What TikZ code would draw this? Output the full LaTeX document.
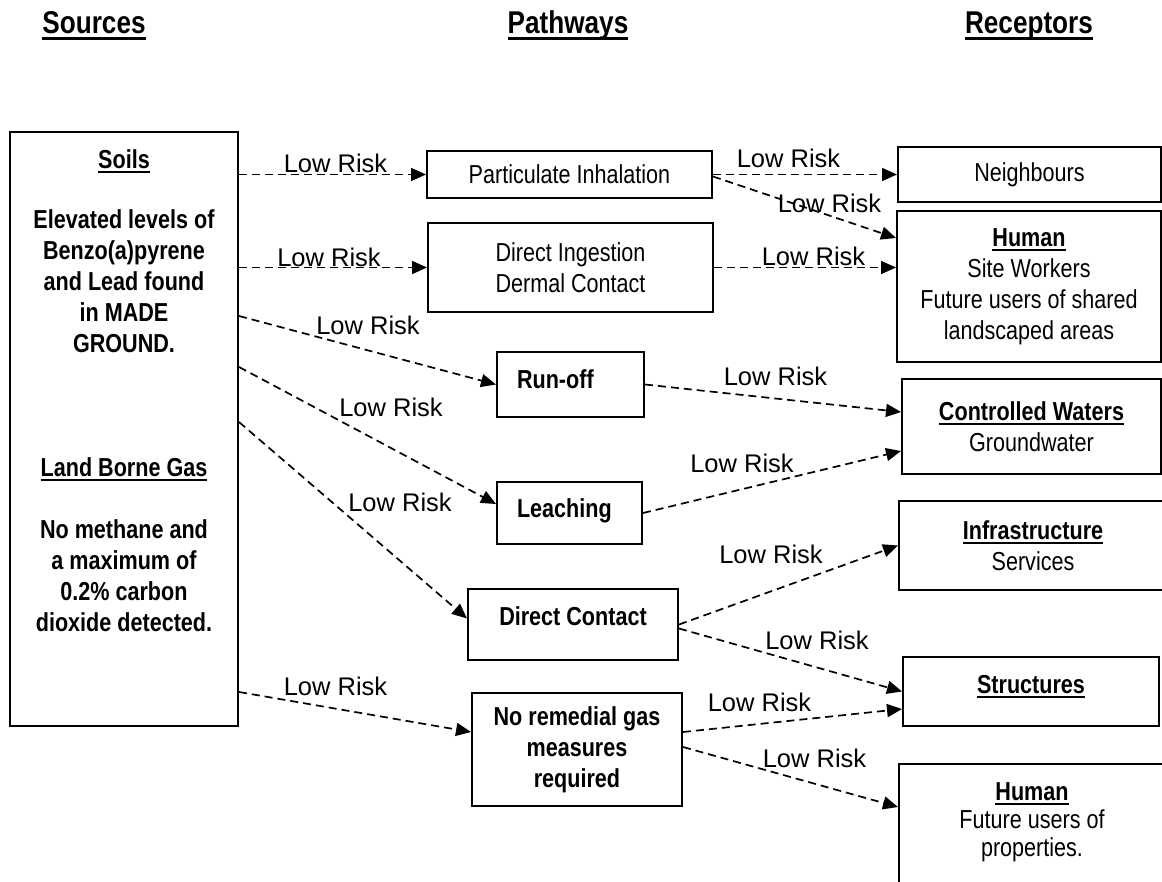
\documentclass[tikz,border=0pt]{standalone}
\usepackage{fontspec}
\setmainfont{Liberation Sans}[FakeStretch=0.83]
\newfontfamily\riskfont{Liberation Sans}
\usetikzlibrary{positioning,calc,arrows.meta}

% underline kept at a fixed depth below the baseline
\newcommand{\ulhead}[1]{\setbox0\hbox{#1}\rlap{\rule[-4.5pt]{\wd0}{2pt}}\box0}
\newcommand{\ultitle}[1]{\setbox0\hbox{#1}\rlap{\rule[-6.5pt]{\wd0}{3pt}}\box0}

\begin{document}
\begin{tikzpicture}[x=1pt, y=-1pt,
    headtitle/.style={font=\fontsize{31.5}{36}\selectfont\bfseries, inner sep=0pt, anchor=base},
    pathbox/.style={draw, line width=2pt, inner sep=0pt, align=center, font=\fontsize{26}{31}\selectfont},
    pathbold/.style={pathbox, font=\fontsize{26}{31}\selectfont\bfseries},
    boxtext/.style={inner sep=0pt, align=center, anchor=north, font=\fontsize{26}{31}\selectfont},
    risk/.style={font=\riskfont\fontsize{25.5}{30}\selectfont, inner sep=0pt},
    pathlink/.style={line width=1.7pt, dash pattern=on 8pt off 5pt, -{Triangle[length=15pt,width=13pt]}}]
    \useasboundingbox (0,0) rectangle (1162,882);

    % column headings
    \node[headtitle] (sources) at (94,34) {\ultitle{Sources}};
    \node[headtitle] (pathways) at (568,34) {\ultitle{Pathways}};
    \node[headtitle] (receptors) at (1029,34) {\ultitle{Receptors}};

    % sources
    \node[pathbox, minimum width=228pt, minimum height=594pt] (src) at (124,429) {};
    \node[boxtext, font=\fontsize{26}{31}\selectfont\bfseries] (srctxt) at (124,149.5) {\ulhead{Soils}\\[29pt]
        Elevated levels of\\Benzo(a)pyrene\\and Lead found\\in MADE\\GROUND.\\[93pt]
        \ulhead{Land Borne Gas}\\[31pt]
        No methane and\\a maximum of\\0.2\% carbon\\dioxide detected.};

    % pathways
    \node[pathbox, minimum width=285pt, minimum height=47pt] (partic) at (569.5,174.5) {Particulate Inhalation};
    \node[pathbox, minimum width=285pt, minimum height=89pt] (ingest) at (570.5,267.5) {Direct Ingestion\\Dermal Contact};
    \node[pathbold, text width=107pt, inner xsep=20pt, align=left, minimum height=65pt, text depth=10.8pt] (runoff) at (570.5,384.5) {Run-off};
    \node[pathbold, text width=105pt, inner xsep=20pt, align=left, minimum height=62pt, text depth=9.8pt] (leach) at (569.5,513) {Leaching};
    \node[pathbold, minimum width=210pt, minimum height=71pt, text depth=16.8pt] (dcontact) at (573,624.5) {Direct Contact};
    \node[pathbold, minimum width=210pt, minimum height=113pt] (nogas) at (577,749.5) {No remedial gas\\measures\\required};

    % receptors
    \node[pathbox, minimum width=263pt, minimum height=55pt] (neigh) at (1029.5,174.5) {Neighbours};
    \node[pathbox, minimum width=264pt, minimum height=151pt] (human1) at (1029,286.5) {\ulhead{\bfseries Human}\\Site Workers\\Future users of shared\\landscaped areas};
    \node[pathbox, minimum width=259pt, minimum height=95pt] (waters) at (1031.5,426.5) {\ulhead{\bfseries Controlled Waters}\\Groundwater};
    \node[pathbox, minimum width=268pt, minimum height=89pt] (infra) at (1033,545.5) {\ulhead{\bfseries Infrastructure}\\Services};
    \node[pathbox, minimum width=256pt, minimum height=69pt, text depth=14.8pt] (struct) at (1031,691.5) {\ulhead{\bfseries Structures}};
    \node[pathbox, minimum width=266pt, minimum height=126pt] (human2) at (1032,827) {};
    \node[boxtext, font=\fontsize{26}{28}\selectfont] (human2txt) at (1032,782) {\ulhead{\bfseries Human}\\Future users of\\properties.};

    % source to pathway links
    \draw[pathlink] (src.east |- partic.west) -- (partic.west);
    \draw[pathlink] (src.east |- ingest.west) -- (ingest.west);
    \draw[pathlink] ($(src.north east)+(0,185)$) -- (runoff.west);
    \draw[pathlink] ($(src.north east)+(0,236)$) -- ($(leach.north west)+(0,23)$);
    \draw[pathlink] ($(src.north east)+(0,291)$) -- ($(dcontact.west)+(0,-6)$);
    \draw[pathlink] ($(src.north east)+(0,561)$) -- ($(nogas.north west)+(0,40)$);

    % pathway to receptor links
    \draw[pathlink] (partic.east) -- (neigh.west);
    \draw[pathlink] ($(partic.east)+(0,2)$) -- ($(human1.north west)+(0,28)$);
    \draw[pathlink] (ingest.east) -- (human1.west |- ingest.east);
    \draw[pathlink] (runoff.east) -- ($(waters.north west)+(0,34)$);
    \draw[pathlink] (leach.east) -- ($(waters.north west)+(0,73)$);
    \draw[pathlink] (dcontact.east) -- (infra.west);
    \draw[pathlink] ($(dcontact.east)+(0,4)$) -- (struct.west);
    \draw[pathlink] ($(nogas.north east)+(0,40)$) -- ($(struct.north west)+(0,53)$);
    \draw[pathlink] ($(nogas.north east)+(0,55)$) -- ($(human2.north west)+(0,44)$);

    % risk labels
    \foreach \n/\x/\y in {1/335.5/163, 2/329/257, 3/368/325, 4/391/407, 5/400/502, 6/335.5/686,
        7/788.5/158, 8/829.5/203, 9/813.5/256, 10/775.5/376, 11/742/463, 12/771/554,
        13/817/640, 14/759.5/702, 15/814.5/758}
        \node[risk] (risk\n) at (\x,\y) {Low Risk};
\end{tikzpicture}
\end{document}
